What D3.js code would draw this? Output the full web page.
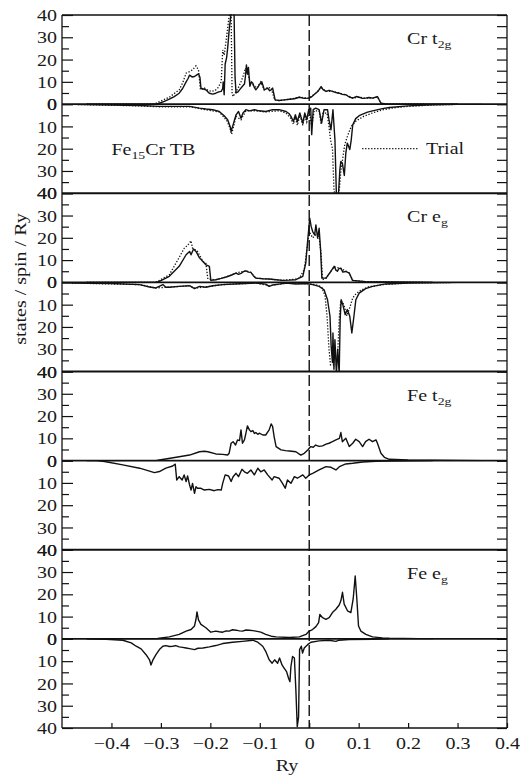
<!DOCTYPE html>
<html><head><meta charset="utf-8">
<script src="https://cdn.jsdelivr.net/npm/d3@7"></script>
<style>
html,body{margin:0;padding:0;background:#fff;}
svg{display:block;}
text{font-family:"Liberation Serif","Times New Roman",serif;fill:#1a1a1a;}
</style></head><body>
<svg id="chart" width="520" height="777"></svg>
<script>
// ---------------- tick / label data ----------------
const xTicks = [-0.4,-0.3,-0.2,-0.1,0,0.1,0.2,0.3,0.4];
const yMajorTicks = [0,10,20,30,40];
const yMinorTicks = [5,15,25,35];
const rightTicks = [0,5,10,15,20,25,30,35,40];
const panelNames = [["Cr t","2g"],["Cr e","g"],["Fe t","2g"],["Fe e","g"]];

// ---------------- series data [Ry, states/spin/Ry] ----------------
const crT2gUpSolid = [[-0.45,0],[-0.31,0],[-0.303,0.4],[-0.293,1.2],[-0.283,2.2],[-0.273,3.4],[-0.263,4.9],[-0.256,7],[-0.249,10],[-0.245,11.5],[-0.242,13],[-0.237,12.2],[-0.232,12.4],[-0.228,13],[-0.224,13.6],[-0.221,12],[-0.219,7.2],[-0.214,6.8],[-0.209,6.4],[-0.205,5.5],[-0.202,4.9],[-0.195,4.5],[-0.189,4.9],[-0.183,5.5],[-0.178,5.7],[-0.175,7],[-0.174,10],[-0.172,4.2],[-0.170,18],[-0.167,21],[-0.165,25],[-0.162,33],[-0.158,41],[-0.152,41],[-0.150,12],[-0.148,5],[-0.144,5.5],[-0.141,6.4],[-0.135,8],[-0.131,9],[-0.129,12.4],[-0.127,17.6],[-0.125,13.5],[-0.123,16.5],[-0.120,8],[-0.117,10],[-0.114,9.4],[-0.111,7.5],[-0.108,6.4],[-0.104,7.5],[-0.101,8.7],[-0.096,10],[-0.093,8],[-0.091,6.4],[-0.087,6.8],[-0.084,7.2],[-0.080,6],[-0.077,6.4],[-0.074,7.2],[-0.071,4],[-0.069,1.9],[-0.061,1.6],[-0.050,1.9],[-0.040,2.2],[-0.030,2.4],[-0.020,3.1],[-0.010,2.6],[0,2.7],[0.006,3.5],[0.013,4.9],[0.018,5.8],[0.024,7.9],[0.028,6.5],[0.034,5.7],[0.040,6.2],[0.047,5.7],[0.054,5.2],[0.061,4.9],[0.067,4.4],[0.074,4.2],[0.081,3.2],[0.088,2.7],[0.095,3.4],[0.101,3.1],[0.108,2.6],[0.114,2.7],[0.121,3.0],[0.128,2.7],[0.134,3.1],[0.138,3.4],[0.145,0.4],[0.155,0.1],[0.3,0]];
const crT2gUpDotted = [[-0.45,0],[-0.32,0],[-0.31,0.4],[-0.283,3.1],[-0.263,6.4],[-0.256,9.5],[-0.249,13.9],[-0.242,14.6],[-0.236,15.4],[-0.229,17.2],[-0.224,15.4],[-0.220,6.4],[-0.212,7.2],[-0.205,6.2],[-0.198,5.7],[-0.190,6.2],[-0.185,7.2],[-0.178,10],[-0.175,24.3],[-0.172,22],[-0.167,30.3],[-0.163,37.8],[-0.161,41],[-0.158,41],[-0.156,4.9],[-0.154,3.4],[-0.148,5.7],[-0.143,7.5],[-0.138,10],[-0.133,13],[-0.129,16.1],[-0.125,15],[-0.121,10.9],[-0.114,8.7],[-0.106,7.2],[-0.098,10],[-0.091,6.4],[-0.084,7.5],[-0.077,7.2],[-0.070,1.9],[-0.061,1.6],[-0.040,2.2],[-0.020,3.1],[0,2.7],[0.013,4.9],[0.024,7.5],[0.034,5.7],[0.047,5.7],[0.061,4.9],[0.074,4.2],[0.088,2.7],[0.101,3.1],[0.114,2.7],[0.128,2.7],[0.138,3.2],[0.145,0.4],[0.155,0.1],[0.3,0]];
const crT2gDownSolid = [[-0.48,0.1],[-0.40,0.4],[-0.343,0.6],[-0.303,1.0],[-0.276,1.0],[-0.242,1.0],[-0.222,1.8],[-0.209,2.2],[-0.195,2.5],[-0.182,3.3],[-0.172,5.2],[-0.165,7],[-0.160,10],[-0.158,12.2],[-0.154,9.3],[-0.148,4.8],[-0.143,3.3],[-0.138,6.3],[-0.134,4],[-0.128,2.5],[-0.121,3],[-0.111,2.5],[-0.101,3],[-0.088,3.3],[-0.074,2.5],[-0.061,2.5],[-0.047,3.3],[-0.041,4.2],[-0.037,5.5],[-0.032,7.8],[-0.028,4.8],[-0.024,7.8],[-0.019,4],[-0.013,8.5],[-0.009,4],[-0.005,7],[-0.001,2.5],[0.003,1.8],[0.005,13.7],[0.008,2.5],[0.013,1.8],[0.020,2.5],[0.025,8.5],[0.030,2.5],[0.037,2.5],[0.040,7],[0.044,11.5],[0.046,7],[0.048,2.5],[0.052,16],[0.055,41],[0.059,41],[0.062,29.4],[0.064,25.7],[0.067,26.5],[0.071,32],[0.074,22],[0.077,17.5],[0.082,20.4],[0.085,16],[0.088,9.3],[0.094,6.5],[0.101,5.2],[0.108,4.5],[0.118,3.6],[0.128,3.0],[0.148,2.0],[0.162,1.5],[0.2,0.8],[0.25,0.3],[0.3,0.05],[0.35,0]];
const crT2gDownDotted = [[-0.48,0.1],[-0.40,0.5],[-0.343,0.8],[-0.303,1.2],[-0.242,1.2],[-0.209,2.5],[-0.182,3.5],[-0.172,6],[-0.165,8],[-0.160,11],[-0.157,13.5],[-0.153,10],[-0.148,5.5],[-0.138,7],[-0.128,3],[-0.111,3],[-0.088,3.5],[-0.061,3],[-0.047,4],[-0.037,6.5],[-0.032,9],[-0.028,6],[-0.024,9.5],[-0.019,5],[-0.013,9.5],[-0.009,5],[-0.005,8],[0,3],[0.005,10],[0.010,3],[0.020,3],[0.024,9],[0.028,4],[0.036,4],[0.040,10],[0.043,16],[0.047,20],[0.050,38],[0.052,41],[0.058,41],[0.061,38],[0.064,30],[0.068,24],[0.072,18],[0.078,14],[0.085,10],[0.095,7.5],[0.11,5.5],[0.13,3.8],[0.15,2.5],[0.17,1.7],[0.2,1.0],[0.25,0.4],[0.3,0.1],[0.35,0]];

const crEgUpSolid = [[-0.45,0],[-0.31,0],[-0.303,0.4],[-0.283,2.7],[-0.263,7.2],[-0.249,12.4],[-0.242,13.9],[-0.239,12.4],[-0.234,15],[-0.229,13.9],[-0.222,11],[-0.215,9.4],[-0.209,7.9],[-0.205,7.5],[-0.202,7.2],[-0.199,0.9],[-0.189,1.2],[-0.178,1.8],[-0.168,2.4],[-0.158,3.2],[-0.148,4.2],[-0.143,3.6],[-0.138,4.0],[-0.133,4.8],[-0.128,5.2],[-0.123,4.6],[-0.118,4.5],[-0.113,3],[-0.108,1.9],[-0.094,1.6],[-0.081,1.5],[-0.067,1.2],[-0.054,0.9],[-0.040,1.0],[-0.027,1.2],[-0.013,2.7],[-0.007,8.7],[-0.003,19],[0.001,28.8],[0.004,25],[0.007,22.8],[0.011,21.3],[0.0135,25.8],[0.017,19.9],[0.020,24.3],[0.023,14.6],[0.0256,1.9],[0.034,1.9],[0.039,3.5],[0.044,5],[0.0505,7.2],[0.054,5.5],[0.057,5],[0.060,6.2],[0.064,6.4],[0.068,4.6],[0.074,4.9],[0.081,4.2],[0.0875,0.9],[0.114,0.3],[0.155,0.15],[0.25,0]];
const crEgUpDotted = [[-0.45,0],[-0.315,0],[-0.307,0.4],[-0.283,3.4],[-0.266,10],[-0.2525,15.4],[-0.246,16.6],[-0.239,18.7],[-0.236,15.4],[-0.226,13.9],[-0.215,9.4],[-0.209,8.5],[-0.205,1.5],[-0.189,1.2],[-0.168,2.4],[-0.148,4.2],[-0.128,5.2],[-0.118,4.5],[-0.108,1.9],[-0.081,1.5],[-0.054,0.9],[-0.027,1.5],[-0.020,1.9],[-0.010,5.7],[-0.003,17.6],[0,22.8],[0.007,20],[0.013,21.3],[0.020,20.5],[0.024,12.4],[0.027,1.2],[0.034,1.9],[0.044,5],[0.0505,7.0],[0.064,6.2],[0.081,4.2],[0.088,0.9],[0.114,0.3],[0.25,0]];
const crEgDownSolid = [[-0.48,0.3],[-0.40,0.5],[-0.343,1.0],[-0.323,2.1],[-0.310,2.5],[-0.296,1.0],[-0.290,2.2],[-0.283,2.2],[-0.263,1.8],[-0.242,1.5],[-0.232,2.8],[-0.222,1.8],[-0.209,2.2],[-0.195,1.5],[-0.175,1.0],[-0.141,0.6],[-0.108,0.3],[-0.088,0.8],[-0.081,1.8],[-0.074,1.2],[-0.061,0.8],[-0.047,0.3],[-0.027,0.7],[-0.007,0.5],[0.007,1.0],[0.020,1.8],[0.030,3.3],[0.037,7.8],[0.042,15.2],[0.0444,28.7],[0.047,36],[0.048,22.7],[0.050,39],[0.052,25.7],[0.055,41],[0.0575,30],[0.0606,41],[0.0626,16.7],[0.0646,7.8],[0.068,10],[0.0727,14.5],[0.077,12.2],[0.082,15.2],[0.0862,22.7],[0.090,16],[0.0943,7.8],[0.101,4.8],[0.114,2.8],[0.128,1.8],[0.155,0.7],[0.2,0.3],[0.3,0]];
const crEgDownDotted = [[-0.48,0.3],[-0.343,1.0],[-0.31,2.5],[-0.29,2.2],[-0.242,1.5],[-0.232,2.6],[-0.209,2.0],[-0.175,1.0],[-0.108,0.3],[-0.081,1.5],[-0.047,0.4],[0,0.6],[0.015,1.2],[0.025,2],[0.032,6],[0.036,15],[0.040,30],[0.043,37],[0.055,37],[0.058,30],[0.061,15],[0.064,8],[0.070,10],[0.076,15],[0.081,12],[0.088,7],[0.095,5],[0.105,3.5],[0.12,2],[0.15,1],[0.2,0.3],[0.3,0]];

const feT2gUp = [[-0.45,0],[-0.31,0],[-0.303,0.3],[-0.269,1.5],[-0.242,2.5],[-0.222,4],[-0.212,4.2],[-0.205,4],[-0.189,3],[-0.175,2.8],[-0.165,2.5],[-0.162,3.3],[-0.158,7.8],[-0.154,8.5],[-0.149,7],[-0.145,9.3],[-0.141,9],[-0.138,13.8],[-0.135,7.8],[-0.131,9.3],[-0.128,12.3],[-0.125,15.6],[-0.121,13.8],[-0.118,13],[-0.114,13.5],[-0.111,12.2],[-0.108,12.6],[-0.104,11.8],[-0.101,12.3],[-0.094,11.5],[-0.088,11.5],[-0.081,13.8],[-0.077,16.5],[-0.074,15.3],[-0.071,10.8],[-0.067,6.3],[-0.057,4.8],[-0.048,4.5],[-0.040,4.3],[-0.027,4],[-0.017,2.5],[-0.010,3.3],[-0.003,4.8],[0.003,6.3],[0.008,6],[0.013,7],[0.020,6.4],[0.027,6.6],[0.034,7.4],[0.040,7.8],[0.047,8.5],[0.054,9.3],[0.061,10],[0.064,12.6],[0.067,8.5],[0.074,10],[0.081,6.3],[0.088,7.8],[0.094,9.6],[0.101,8.5],[0.108,6.3],[0.114,8.5],[0.121,9.6],[0.128,8.5],[0.135,9.3],[0.138,7.8],[0.145,3.3],[0.152,1.5],[0.162,0.6],[0.2,0.3],[0.3,0.1],[0.35,0]];
const feT2gDown = [[-0.45,0],[-0.43,0],[-0.414,0.4],[-0.377,1.9],[-0.343,3.4],[-0.313,5.4],[-0.303,4.9],[-0.290,3.4],[-0.276,2.4],[-0.271,1.6],[-0.268,8.7],[-0.263,7.2],[-0.257,8.7],[-0.253,6.4],[-0.249,9.4],[-0.246,6.9],[-0.242,10.9],[-0.239,13.2],[-0.236,10.2],[-0.232,14.7],[-0.229,11.7],[-0.226,12.4],[-0.219,12.4],[-0.212,13.2],[-0.202,12.9],[-0.192,13.5],[-0.185,13],[-0.178,13.2],[-0.175,10.2],[-0.170,6.4],[-0.163,6.9],[-0.158,9.4],[-0.154,7.2],[-0.148,5.7],[-0.143,7.2],[-0.136,3.9],[-0.131,5],[-0.125,5.7],[-0.118,4.2],[-0.111,6.4],[-0.104,3.4],[-0.098,5],[-0.091,4.2],[-0.084,6.4],[-0.075,8.7],[-0.071,7.2],[-0.061,7.9],[-0.054,10.2],[-0.0485,12.4],[-0.044,8.7],[-0.037,10.2],[-0.030,7.2],[-0.024,7.9],[-0.013,6.4],[-0.007,7.9],[0,6.4],[0.007,5.7],[0.020,4.2],[0.034,2.7],[0.044,3.0],[0.054,4.2],[0.061,2.7],[0.074,1.5],[0.088,1.2],[0.108,0.6],[0.135,0.3],[0.162,0.15],[0.25,0]];

const feEgUp = [[-0.45,0],[-0.31,0],[-0.303,0.3],[-0.283,0.9],[-0.263,2],[-0.249,3.5],[-0.239,4.2],[-0.232,5.8],[-0.229,8.8],[-0.227,12.1],[-0.224,8.5],[-0.219,6.5],[-0.209,5],[-0.199,3],[-0.189,3.5],[-0.182,3.2],[-0.175,3],[-0.168,3.6],[-0.162,3.5],[-0.155,4.1],[-0.148,3.9],[-0.141,3.6],[-0.135,3.5],[-0.128,4.0],[-0.121,3.9],[-0.114,3.7],[-0.108,3.5],[-0.098,3],[-0.088,2],[-0.077,1.2],[-0.067,0.9],[-0.040,0.6],[-0.020,0.9],[-0.0067,2],[0,3.5],[0.0067,4.2],[0.0135,5.5],[0.019,7.3],[0.0215,11],[0.027,9.5],[0.0337,8.8],[0.0404,9.5],[0.047,11.8],[0.0539,13.3],[0.0606,15.2],[0.064,17.1],[0.0673,20.9],[0.0707,15.6],[0.0774,12.6],[0.0842,11.8],[0.0889,17.9],[0.093,28.2],[0.0963,17.9],[0.0997,5.8],[0.1044,3.5],[0.1145,2],[0.128,0.9],[0.148,0.45],[0.162,0.3],[0.25,0]];
const feEgDown = [[-0.45,0],[-0.411,0.15],[-0.377,0.6],[-0.36,1.8],[-0.35,3.3],[-0.34,4.5],[-0.33,7.1],[-0.323,9.4],[-0.32,11.7],[-0.316,9.4],[-0.31,7.1],[-0.303,4.8],[-0.296,3.3],[-0.29,3],[-0.283,3.4],[-0.276,3.3],[-0.270,3.0],[-0.263,3.6],[-0.256,3.8],[-0.249,4.1],[-0.242,4.4],[-0.232,4.8],[-0.225,4.2],[-0.215,4.1],[-0.202,3.6],[-0.189,3],[-0.175,2.1],[-0.155,1.5],[-0.135,1.1],[-0.114,0.6],[-0.104,1.5],[-0.094,3.3],[-0.088,5.6],[-0.081,9.4],[-0.075,10.9],[-0.070,9.4],[-0.064,10.9],[-0.060,8.6],[-0.055,11.7],[-0.0505,13.2],[-0.0458,14.7],[-0.0418,17.7],[-0.039,19.2],[-0.037,12.4],[-0.0337,7.9],[-0.030,8.6],[-0.027,23],[-0.0242,39.4],[-0.0215,35],[-0.0195,4.8],[-0.016,3.3],[-0.0135,6.4],[-0.01,4.1],[-0.0034,2.6],[0.0034,1.5],[0.02,0.9],[0.04,0.6],[0.054,1.1],[0.06,0.6],[0.081,0.3],[0.128,0.15],[0.162,0]];

// ---------------- layout ----------------
const svg = d3.select("#chart");
const plotLeft = 62, plotRight = 507, plotTop = 15, halfH = 89.125;
const x = d3.scaleLinear().domain([-0.5, 0.4]).range([plotLeft, plotRight]);
const TEXT_SX = 1.25;

const panels = [
  {name: panelNames[0], upSolid: crT2gUpSolid, upDotted: crT2gUpDotted, downSolid: crT2gDownSolid, downDotted: crT2gDownDotted},
  {name: panelNames[1], upSolid: crEgUpSolid, upDotted: crEgUpDotted, downSolid: crEgDownSolid, downDotted: crEgDownDotted},
  {name: panelNames[2], upSolid: feT2gUp, upDotted: null, downSolid: feT2gDown, downDotted: null},
  {name: panelNames[3], upSolid: feEgUp, upDotted: null, downSolid: feEgDown, downDotted: null}
];

function addLabel(px, py, parts, opts = {}) {
  const rot = opts.rotate || 0;
  const g = svg.append("g").attr("transform", `translate(${px},${py}) rotate(${rot}) scale(${TEXT_SX},1)`);
  const t = g.append("text").attr("text-anchor", opts.anchor || "start").style("font-size", (opts.size || 16) + "px");
  let shifted = false;
  parts.forEach(p => {
    const ts = t.append("tspan").text(p.t);
    if (p.sub) { ts.attr("dy", 4).style("font-size", "11px"); shifted = true; }
    else if (shifted) { ts.attr("dy", -4); shifted = false; }
  });
  return g;
}

const defs = svg.append("defs");
const frame = svg.append("g");
const marks = svg.append("g");
const axesG = svg.append("g");

panels.forEach((p, i) => {
  const t = plotTop + i * 2 * halfH;
  p.up = d3.scaleLinear().domain([0, 40]).range([t + halfH, t]);
  p.down = d3.scaleLinear().domain([0, 40]).range([t + halfH, t + 2 * halfH]);
  p.top = t;

  ["up", "down"].forEach(side => {
    const sc = p[side];
    const id = `clip${i}${side}`;
    const y0 = Math.min(sc.range()[0], sc.range()[1]);
    defs.append("clipPath").attr("id", id).append("rect")
      .attr("x", plotLeft).attr("y", y0 - 0.5).attr("width", plotRight - plotLeft).attr("height", halfH + 1);
    const line = d3.line().x(d => x(d[0])).y(d => sc(Math.min(d[1], 41)));
    const g = marks.append("g").attr("clip-path", `url(#${id})`);
    const dotted = p[side + "Dotted"], solid = p[side + "Solid"];
    if (dotted) g.append("path").datum(dotted).attr("d", line)
      .attr("fill", "none").attr("stroke", "#111").attr("stroke-width", 1.3).attr("stroke-dasharray", "1.3,1.7");
    g.append("path").datum(solid).attr("d", line)
      .attr("fill", "none").attr("stroke", "#111").attr("stroke-width", 1.4).attr("stroke-linejoin", "round");

    // left axis: major with labels, minor without
    const la = axesG.append("g").attr("transform", `translate(${plotLeft},0)`)
      .call(d3.axisLeft(sc).tickValues(yMajorTicks).tickSizeInner(-11).tickSizeOuter(0).tickPadding(5).tickFormat(d3.format("d")));
    la.select(".domain").remove();
    la.attr("font-family", null).attr("font-size", null);
    la.selectAll("line").attr("stroke", "#111").attr("stroke-width", 1.2);
    la.selectAll("text").attr("x", null).attr("dy", "0.35em")
      .attr("transform", `translate(-5,0) scale(${TEXT_SX},1)`).style("font-size", "16px");
    const lm = axesG.append("g").attr("transform", `translate(${plotLeft},0)`)
      .call(d3.axisLeft(sc).tickValues(yMinorTicks).tickSizeInner(-7).tickSizeOuter(0).tickFormat(""));
    lm.select(".domain").remove();
    lm.selectAll("line").attr("stroke", "#111").attr("stroke-width", 1.2);
    // right axis ticks
    const ra = axesG.append("g").attr("transform", `translate(${plotRight},0)`)
      .call(d3.axisRight(sc).tickValues(rightTicks).tickSizeInner(-10).tickSizeOuter(0).tickFormat(""));
    ra.select(".domain").remove();
    ra.selectAll("line").attr("stroke", "#111").attr("stroke-width", 1.2);
  });

  // zero line and panel top boundary
  frame.append("line").attr("x1", plotLeft).attr("x2", plotRight).attr("y1", p.up(0)).attr("y2", p.up(0))
    .attr("stroke", "#111").attr("stroke-width", 1.6);
  frame.append("line").attr("x1", plotLeft).attr("x2", plotRight).attr("y1", p.up(40)).attr("y2", p.up(40))
    .attr("stroke", "#111").attr("stroke-width", i === 0 ? 1.3 : 1.8);

  addLabel(x(0.198), t + 29, [{t: p.name[0]}, {t: p.name[1], sub: true}]);
});

const last = panels[panels.length - 1];
const plotBottom = last.down(40);
frame.append("line").attr("x1", plotLeft).attr("x2", plotRight).attr("y1", plotBottom).attr("y2", plotBottom)
  .attr("stroke", "#111").attr("stroke-width", 1.4);
frame.append("line").attr("x1", plotLeft).attr("x2", plotLeft).attr("y1", plotTop).attr("y2", plotBottom)
  .attr("stroke", "#111").attr("stroke-width", 1.3);
frame.append("line").attr("x1", plotRight).attr("x2", plotRight).attr("y1", plotTop).attr("y2", plotBottom)
  .attr("stroke", "#111").attr("stroke-width", 1.3);
// Fermi level dashed line
frame.append("line").attr("x1", x(0)).attr("x2", x(0)).attr("y1", plotTop).attr("y2", plotBottom)
  .attr("stroke", "#111").attr("stroke-width", 1.4).attr("stroke-dasharray", "11,4");

// bottom axis
const xa = axesG.append("g").attr("transform", `translate(0,${plotBottom})`)
  .call(d3.axisBottom(x).tickValues(xTicks).tickSizeInner(-5).tickSizeOuter(0).tickPadding(10)
    .tickFormat(d => d === 0 ? "0" : d3.format(".1f")(d)));
xa.select(".domain").remove();
xa.attr("font-family", null).attr("font-size", null);
xa.selectAll("line").attr("stroke", "#111").attr("stroke-width", 1.2);
xa.selectAll("text").attr("y", null).attr("dy", "0.71em")
  .attr("transform", `translate(0,10) scale(${TEXT_SX},1)`).style("font-size", "16px");

// legend for trial curve
const p0 = panels[0];
frame.append("line").attr("x1", x(0.107)).attr("x2", x(0.222)).attr("y1", p0.down(20)).attr("y2", p0.down(20))
  .attr("stroke", "#111").attr("stroke-width", 1.3).attr("stroke-dasharray", "1.3,1.7");
addLabel(x(0.236), p0.down(20) + 5, [{t: "Trial"}]);
addLabel(x(-0.4), p0.down(20) + 6, [{t: "Fe"}, {t: "15", sub: true}, {t: "Cr TB"}]);

// axis titles
addLabel(26, 279, [{t: "states / spin / Ry"}], {anchor: "middle", rotate: -90});
addLabel(287, 771, [{t: "Ry"}], {anchor: "middle"});
</script>
</body></html>
